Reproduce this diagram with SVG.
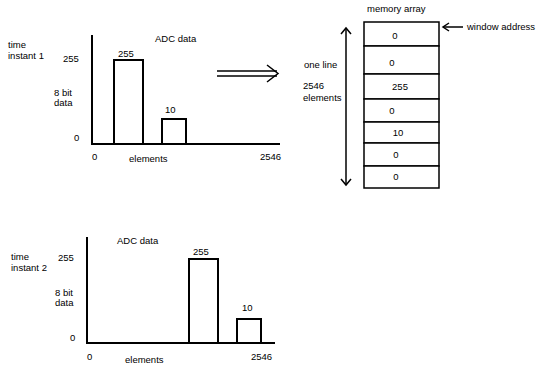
<svg xmlns="http://www.w3.org/2000/svg" width="550" height="385" viewBox="0 0 550 385">
<style>
text{font-family:"Liberation Sans",Arial,sans-serif;font-size:9.5px;fill:#000}
.ax{stroke:#000;stroke-width:2;fill:none}
.bar{stroke:#000;stroke-width:2;fill:#fff}
.cell{stroke:#000;stroke-width:1.5;fill:#fff}
.ln{stroke:#000;stroke-width:1.5;fill:none}
.mid{text-anchor:middle}
</style>
<rect width="550" height="385" fill="#fff"/>
<g id="chart1">
<line class="ax" x1="92" y1="35" x2="92" y2="144"/>
<line class="ax" x1="91" y1="144" x2="280" y2="144"/>
<rect class="bar" x="114" y="60" width="29" height="84"/>
<rect class="bar" x="162" y="119" width="24" height="25"/>
<text x="155" y="42">ADC data</text>
<text x="118" y="57">255</text>
<text x="165" y="113">10</text>
<text x="8" y="48">time</text>
<text x="8" y="59">instant 1</text>
<text x="63" y="62">255</text>
<text x="54" y="96">8 bit</text>
<text x="54" y="106">data</text>
<text x="74" y="141">0</text>
<text x="92" y="160">0</text>
<text x="129" y="162">elements</text>
<text x="260" y="160">2546</text>
</g>
<g id="chart2">
<line class="ax" x1="87" y1="237" x2="87" y2="343"/>
<line class="ax" x1="86" y1="343" x2="275" y2="343"/>
<rect class="bar" x="189" y="259" width="29" height="84"/>
<rect class="bar" x="237" y="319" width="24" height="24"/>
<text x="117" y="244">ADC data</text>
<text x="193" y="255">255</text>
<text x="242" y="311">10</text>
<text x="11" y="260">time</text>
<text x="11" y="271">instant 2</text>
<text x="58" y="261">255</text>
<text x="55" y="296">8 bit</text>
<text x="55" y="306">data</text>
<text x="70" y="341">0</text>
<text x="87" y="360">0</text>
<text x="125" y="363">elements</text>
<text x="251" y="360">2546</text>
</g>
<g id="memory">
<text x="367" y="12">memory array</text>
<rect class="cell" x="364" y="22" width="75" height="24"/>
<rect class="cell" x="364" y="46" width="75" height="28"/>
<rect class="cell" x="364" y="74" width="75" height="25"/>
<rect class="cell" x="364" y="99" width="75" height="23"/>
<rect class="cell" x="364" y="122" width="75" height="21"/>
<rect class="cell" x="364" y="143" width="75" height="23"/>
<rect class="cell" x="364" y="166" width="75" height="22"/>
<text class="mid" x="395" y="39">0</text>
<text class="mid" x="392" y="66">0</text>
<text class="mid" x="400" y="90">255</text>
<text class="mid" x="392" y="114">0</text>
<text class="mid" x="398" y="136">10</text>
<text class="mid" x="396" y="158">0</text>
<text class="mid" x="396" y="180">0</text>
</g>
<g id="labels">
<text x="467" y="30">window address</text>
<text x="304" y="68">one line</text>
<text x="303" y="89">2546</text>
<text x="303" y="101">elements</text>
</g>
<g id="connectors">
<line class="ln" x1="217" y1="71" x2="277" y2="71"/>
<line class="ln" x1="217" y1="76" x2="277" y2="76"/>
<polyline class="ln" points="267,65 278,73.5 267,82"/>
<line class="ln" x1="443" y1="27" x2="463" y2="27"/>
<polyline class="ln" points="449,23 443,27 449,31"/>
<line class="ln" x1="346" y1="28" x2="346" y2="185"/>
<polyline class="ln" points="341,34 346,28 351,34"/>
<polyline class="ln" points="341,179 346,185 351,179"/>
</g>
</svg>
